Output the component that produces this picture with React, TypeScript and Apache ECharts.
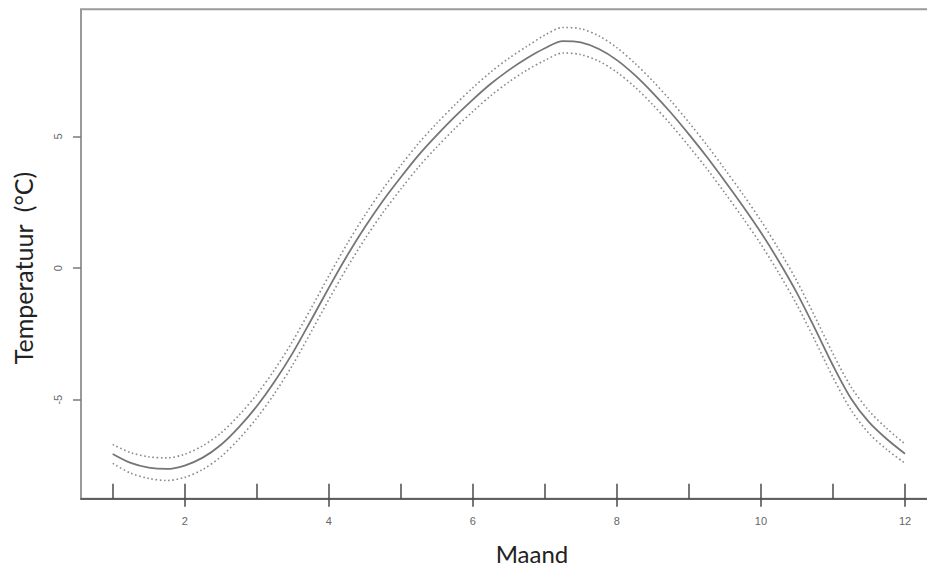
import React, { useEffect, useRef } from "react";
import * as echarts from "echarts";

// Fitted seasonal temperature curve with its confidence band (dotted)
const months = [
  1, 1.25, 1.5, 1.75, 2, 2.25, 2.5, 2.75, 3, 3.25, 3.5, 3.75, 4, 4.25, 4.5, 4.75, 5, 5.25, 5.5, 5.75,
  6, 6.25, 6.5, 6.75, 7, 7.25, 7.5, 7.75, 8, 8.25, 8.5, 8.75, 9, 9.25, 9.5, 9.75, 10, 10.25, 10.5,
  10.75, 11, 11.25, 11.5, 11.75, 12,
];
const fit = [
  -7.06, -7.4, -7.58, -7.63, -7.5, -7.2, -6.72, -6.05, -5.25, -4.3, -3.22, -2.0, -0.75, 0.45, 1.55,
  2.55, 3.45, 4.3, 5.05, 5.75, 6.4, 7.0, 7.52, 7.97, 8.35, 8.62, 8.57, 8.32, 7.9, 7.33, 6.65, 5.9,
  5.08, 4.22, 3.3, 2.35, 1.35, 0.25, -0.95, -2.3, -3.7, -4.95, -5.85, -6.5, -7.05,
];
const upper = [
  -6.7, -7.01, -7.17, -7.21, -7.07, -6.75, -6.27, -5.6, -4.8, -3.85, -2.77, -1.55, -0.3, 0.9, 2.0,
  3.0, 3.9, 4.75, 5.5, 6.2, 6.85, 7.45, 7.97, 8.42, 8.85, 9.14, 9.09, 8.82, 8.37, 7.78, 7.1, 6.35,
  5.53, 4.67, 3.75, 2.8, 1.8, 0.7, -0.5, -1.85, -3.25, -4.51, -5.42, -6.1, -6.68,
];
const lower = [
  -7.42, -7.79, -7.99, -8.07, -7.95, -7.65, -7.17, -6.5, -5.7, -4.75, -3.67, -2.45, -1.2, 0.0, 1.1,
  2.1, 3.0, 3.85, 4.6, 5.3, 5.95, 6.55, 7.07, 7.52, 7.89, 8.17, 8.11, 7.86, 7.44, 6.88, 6.2, 5.45,
  4.63, 3.77, 2.85, 1.9, 0.9, -0.2, -1.4, -2.75, -4.15, -5.39, -6.28, -6.9, -7.41,
];

const monthTicks = [1, 2, 3, 4, 5, 6, 7, 8, 9, 10, 11, 12];
const monthLabels = [2, 4, 6, 8, 10, 12];
const tempTicks = [-5, 0, 5];

const X_MIN = 0.56;
const X_MAX = 12.44;
const Y_MIN = -8.76;
const Y_MAX = 9.83;

export default function App() {
  const ref = useRef<HTMLDivElement>(null);

  useEffect(() => {
    const chart = echarts.init(ref.current!, null, { renderer: "svg" });
    const pairs = (ys: number[]) => months.map((m, i) => [m, ys[i]]);
    const tickFont = { fontFamily: "Liberation Sans", fontSize: 11, color: "#666666" };

    chart.setOption({
      animation: false,
      backgroundColor: "#ffffff",
      grid: {
        left: 81,
        top: 9.3,
        right: -9.7,
        bottom: 68.3,
        show: true,
        outerBoundsMode: "none",
        containLabel: false,
        borderColor: "#9a9a9a",
        borderWidth: 2,
        backgroundColor: "transparent",
      },
      xAxis: [
        {
          type: "value",
          min: X_MIN,
          max: X_MAX,
          position: "bottom",
          axisLine: { show: true, onZero: false, lineStyle: { color: "#4a4a4a", width: 1.6 } },
          axisTick: {
            show: true,
            inside: true,
            length: 15,
            customValues: monthTicks,
            lineStyle: { color: "#4a4a4a", width: 1.5 },
          },
          axisLabel: { show: false },
          splitLine: { show: false },
        },
        {
          type: "value",
          min: X_MIN,
          max: X_MAX,
          position: "bottom",
          offset: 0,
          axisLine: { show: false, onZero: false },
          axisTick: {
            show: true,
            inside: false,
            length: 8,
            customValues: monthLabels,
            lineStyle: { color: "#4a4a4a", width: 1.5 },
          },
          axisLabel: { show: true, customValues: monthLabels, margin: 17, ...tickFont },
          splitLine: { show: false },
        },
      ],
      yAxis: {
        type: "value",
        min: Y_MIN,
        max: Y_MAX,
        axisLine: { show: false, onZero: false },
        axisTick: {
          show: true,
          length: 8,
          customValues: tempTicks,
          lineStyle: { color: "#7a7a7a", width: 1.5 },
        },
        axisLabel: { show: true, customValues: tempTicks, rotate: 90, margin: 18, ...tickFont },
        splitLine: { show: false },
      },
      graphic: [
        {
          type: "text",
          x: 23,
          y: 268,
          rotation: Math.PI / 2,
          style: {
            text: "Temperatuur  (°C)",
            fontFamily: "Lato",
            fontSize: 25,
            fill: "#222222",
            textAlign: "center",
            textVerticalAlign: "middle",
          },
        },
        {
          type: "text",
          x: 532,
          y: 553,
          style: {
            text: "Maand",
            fontFamily: "Lato",
            fontSize: 24,
            fill: "#222222",
            textAlign: "center",
            textVerticalAlign: "middle",
          },
        },
      ],
      series: [
        {
          type: "line",
          data: pairs(upper),
          smooth: 0.3,
          showSymbol: false,
          lineStyle: { color: "#8a8a8a", width: 1.6, type: [1.6, 2.6] },
        },
        {
          type: "line",
          data: pairs(fit),
          smooth: 0.3,
          showSymbol: false,
          lineStyle: { color: "#767676", width: 1.8 },
        },
        {
          type: "line",
          data: pairs(lower),
          smooth: 0.3,
          showSymbol: false,
          lineStyle: { color: "#8a8a8a", width: 1.6, type: [1.6, 2.6] },
        },
      ],
    });

    return () => chart.dispose();
  }, []);

  return (
    <div
      ref={ref}
      style={{ position: "fixed", left: 0, top: 0, width: 927, height: 567 }}
    />
  );
}
